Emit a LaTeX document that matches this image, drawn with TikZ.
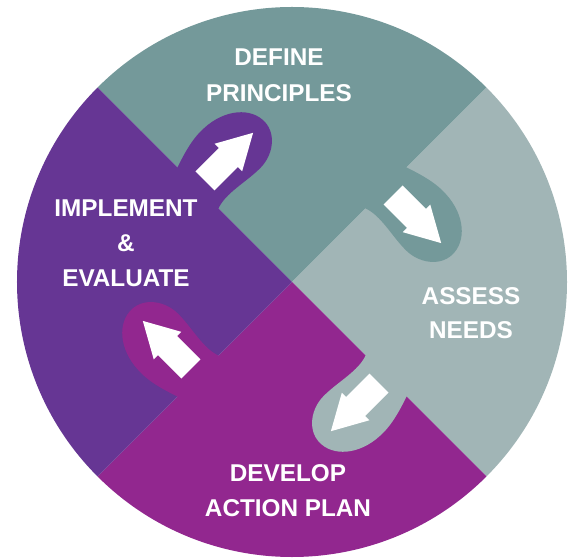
\documentclass[tikz,border=0pt]{standalone}
\usepackage{fontspec}
\setmainfont{Liberation Sans}
\usepackage{xcolor}
\definecolor{defcol}{HTML}{74999A}
\definecolor{asscol}{HTML}{A1B5B6}
\definecolor{devcol}{HTML}{92278F}
\definecolor{impcol}{HTML}{663694}
\tikzset{
	steptext/.style={text=white, font=\bfseries\fontsize{24.3}{24.3}\selectfont, anchor=base, inner sep=0pt},
	knobturn/.style={rotate=#1, yscale=-1},
}
\newcommand{\knobshape}{(162,-2) -- (162,0) .. controls (166,12) and (172,30) .. (171,46) .. controls (170,75) and (152,95) .. (132,94) .. controls (115,93) and (103,76) .. (103,58) .. controls (103,38) and (110,16) .. (104,0) -- (104,-2) -- cycle}
\newcommand{\arrowshape}{(119.5,10) -- (119.5,43) -- (113.5,43) -- (133,78) -- (152.5,43) -- (146.5,43) -- (146.5,10) -- cycle}

\begin{document}
\begin{tikzpicture}[x=1pt, y=1pt]
	\useasboundingbox (-292,-277) rectangle (277,282);
	%\draw[help lines, step=50] (-292,-277) grid (277,282);
	\fill[defcol] (0,0) -- (45:275) arc[start angle=45, end angle=135, radius=275] -- cycle;%top piece
	\fill[asscol] (0,0) -- (-45:275) arc[start angle=-45, end angle=45, radius=275] -- cycle;%right piece
	\fill[devcol] (0,0) -- (-135:275) arc[start angle=-135, end angle=-45, radius=275] -- cycle;%bottom piece
	\fill[impcol] (0,0) -- (135:275) arc[start angle=135, end angle=225, radius=275] -- cycle;%left piece

	\begin{scope}[knobturn=135]
		\fill[impcol] \knobshape;%first knob
		\fill[white] \arrowshape;
	\end{scope}
	\begin{scope}[knobturn=45]
		\fill[defcol] \knobshape;%second knob
		\fill[white] \arrowshape;
	\end{scope}
	\begin{scope}[knobturn=-45]
		\fill[asscol] \knobshape;%third knob
		\fill[white] \arrowshape;
	\end{scope}
	\begin{scope}[knobturn=-135]
		\fill[devcol] \knobshape;%fourth knob
		\fill[white] \arrowshape;
	\end{scope}

	\node[steptext] (define1) at (-13,216) {DEFINE};
	\node[steptext] (define2) at (-13,180.5) {PRINCIPLES};
	\node[steptext] (assess1) at (179,-22.3) {ASSESS};
	\node[steptext] (assess2) at (179,-56.8) {NEEDS};
	\node[steptext] (develop1) at (-4,-199.7) {DEVELOP};
	\node[steptext] (develop2) at (-4,-234) {ACTION PLAN};
	\node[steptext] (implement1) at (-166,65) {IMPLEMENT};
	\node[steptext] (implement2) at (-166,30.4) {\&};
	\node[steptext] (implement3) at (-166,-4.5) {EVALUATE};
\end{tikzpicture}
\end{document}
